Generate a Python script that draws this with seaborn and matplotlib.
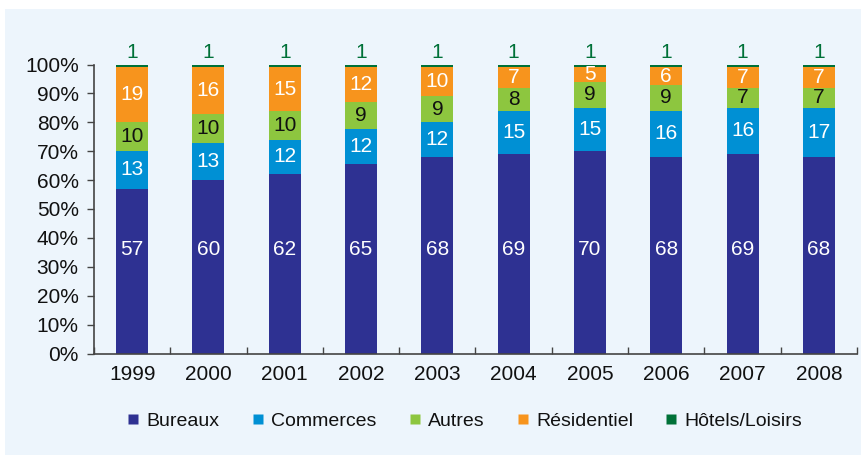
import matplotlib
matplotlib.use("Agg")
import matplotlib.pyplot as plt
from matplotlib.patches import Rectangle
from matplotlib.lines import Line2D
from matplotlib import font_manager
import seaborn as sns
import pandas as pd
import numpy as np

years = ["1999", "2000", "2001", "2002", "2003", "2004", "2005", "2006", "2007", "2008"]
bureaux = [57, 60, 62, 65, 68, 69, 70, 68, 69, 68]
commerces = [13, 13, 12, 12, 12, 15, 15, 16, 16, 17]
autres = [10, 10, 10, 9, 9, 8, 9, 9, 7, 7]
residentiel = [19, 16, 15, 12, 10, 7, 5, 6, 7, 7]
hotels = [1, 1, 1, 1, 1, 1, 1, 1, 1, 1]
series_names = ["Bureaux", "Commerces", "Autres", "Résidentiel", "Hôtels/Loisirs"]
yticks = [0, 10, 20, 30, 40, 50, 60, 70, 80, 90, 100]

colors = ["#2E3192", "#0090D4", "#8DC63F", "#F7941D", "#007138"]
label_colors = ["white", "white", "#111111", "white", "#007138"]

sns.set_theme(style="white")
names = [f.name for f in font_manager.fontManager.ttflist]
fam = "Liberation Sans Narrow" if "Liberation Sans Narrow" in names else "Liberation Sans"
plt.rcParams["font.family"] = [fam, "DejaVu Sans"]

bg = "#EDF5FC"
fig = plt.figure(figsize=(8.62, 4.55), dpi=100)
fig.patch.set_facecolor("white")
fig.patches.append(Rectangle((5 / 862, 0), 1, 1 - 9 / 455, transform=fig.transFigure,
                             facecolor=bg, edgecolor="none", zorder=-10))
ax = fig.add_axes([94 / 862, 1 - 353.5 / 455, (857 - 94) / 862, (353.5 - 64.5) / 455])
ax.set_facecolor(bg)
ax.patch.set_alpha(0)

data = np.array([bureaux, commerces, autres, residentiel, hotels], dtype=float)
# 100% stacked: normalise each year to its total
cum = np.cumsum(data, axis=0) / data.sum(axis=0) * 100
base = np.vstack([np.zeros(len(years)), cum[:-1]])

# Draw from top layer down so each bar overlays the next
for i in range(len(data) - 1, -1, -1):
    df = pd.DataFrame({"year": years, "v": cum[i]})
    sns.barplot(data=df, x="year", y="v", color=colors[i], width=0.42,
                saturation=1, ax=ax, edgecolor="none", linewidth=0, zorder=2)

fs = 15
for j in range(len(years)):
    ax.text(j, 36, str(bureaux[j]), ha="center", va="center", color=label_colors[0], fontsize=fs)
    for i in (1, 2, 3):
        mid = (base[i][j] + cum[i][j]) / 2
        ax.text(j, mid, str(int(data[i][j])), ha="center", va="center",
                color=label_colors[i], fontsize=fs)
    ax.text(j, cum[4][j] + 1.0, str(hotels[j]), ha="center", va="bottom",
            color=label_colors[4], fontsize=fs, clip_on=False)

ax.set_xlim(-0.5, len(years) - 0.5)
ax.set_ylim(0, 100)
ax.set_yticks(yticks)
ax.set_yticklabels([f"{t}%" for t in yticks], fontsize=fs, color="#111111")
ax.tick_params(axis="y", direction="out", length=5, width=1, color="#444444", pad=6, left=True)
ax.tick_params(axis="x", which="major", length=0, labelsize=fs, labelcolor="#111111", pad=8)
ax.set_xticks(np.arange(-0.5, len(years)), minor=True)
ax.tick_params(axis="x", which="minor", direction="in", length=5, width=1, color="#444444", bottom=True)
ax.set_xlabel("")
ax.set_ylabel("")
for s in ("top", "right"):
    ax.spines[s].set_visible(False)
for s in ("left", "bottom"):
    ax.spines[s].set_color("#444444")
    ax.spines[s].set_linewidth(1.2)

handles = [Line2D([0], [0], marker="s", linestyle="none", markersize=7,
                  markerfacecolor=c, markeredgecolor="none") for c in colors]
fig.legend(handles, series_names, loc="center", bbox_to_anchor=(463 / 862, 1 - 421 / 455),
           ncol=5, frameon=False, fontsize=14, handletextpad=0.2, columnspacing=1.45,
           handlelength=1.0, labelcolor="#111111")

fig.savefig("out.png", dpi=100, facecolor=fig.get_facecolor())
